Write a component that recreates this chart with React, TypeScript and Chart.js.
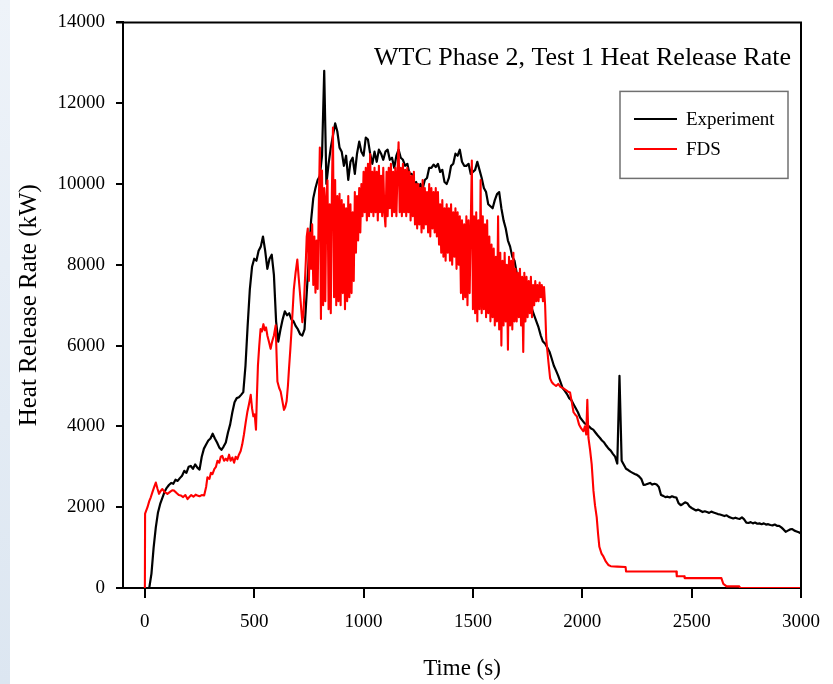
import React, { useEffect, useRef } from "react";
import { Chart, registerables } from "chart.js";

Chart.register(...registerables);

// ---------- texts ----------
const chartTitle = "WTC Phase 2, Test 1 Heat Release Rate";
const seriesNames = ["Experiment", "FDS"];
const xAxisTitle = "Time (s)";
const yAxisTitle = "Heat Release Rate (kW)";

// ---------- tick labels ----------
const xTickValues = [0, 500, 1000, 1500, 2000, 2500, 3000];
const yTickValues = [0, 2000, 4000, 6000, 8000, 10000, 12000, 14000];

// ---------- Experiment (kW), sampled every 10 s from t = 0 s ----------
const expStart = 0;
const expStep = 10;
const expHRR = [
  0, 0, 0, 350, 1000, 1500, 1870, 2080, 2230, 2380, // 0-90
  2480, 2550, 2600, 2580, 2680, 2650, 2720, 2780, 2900, 2850, // 100-190
  3000, 3020, 2950, 3060, 2980, 2930, 3250, 3450, 3550, 3650, // 200-290
  3700, 3820, 3700, 3600, 3480, 3420, 3500, 3600, 3850, 4050, // 300-390
  4350, 4600, 4700, 4720, 4780, 4850, 5500, 6500, 7400, 7950, // 400-490
  8150, 8100, 8350, 8450, 8700, 8350, 7900, 8150, 8250, 7750, // 500-590
  6600, 6100, 6400, 6650, 6850, 6750, 6800, 6650, 6600, 6480, // 600-690
  6400, 6280, 6250, 6400, 7300, 8200, 9100, 9650, 9900, 10100, // 700-790
  10200, 10700, 12800, 10000, 10500, 10900, 11200, 11500, 11300, 10900, // 800-890
  10800, 10450, 10700, 10100, 10550, 10650, 10250, 10750, 11050, 10800, // 900-990
  10700, 11150, 11100, 10750, 10500, 10800, 10550, 10850, 10750, 10600, // 1000-1090
  10800, 10850, 10600, 10650, 10400, 10700, 10850, 10650, 10600, 10450, // 1100-1190
  10500, 10250, 10250, 10000, 10050, 9900, 10000, 9880, 10100, 10150, // 1200-1290
  10400, 10400, 10480, 10420, 10500, 10300, 10350, 10050, 10000, 10150, // 1300-1390
  10450, 10500, 10750, 10700, 10850, 10550, 10450, 10450, 10500, 10250, // 1400-1490
  10300, 10350, 10550, 10350, 10150, 9900, 9800, 9500, 9450, 9400, // 1500-1590
  9600, 9750, 9800, 9400, 9100, 8900, 8600, 8450, 8200, 8100, // 1600-1690
  7800, 7650, 7500, 7400, 7250, 7150, 7050, 6900, 6750, 6600, // 1700-1790
  6450, 6250, 6100, 6050, 5950, 5850, 5680, 5500, 5380, 5250, // 1800-1890
  5100, 4950, 4880, 4800, 4700, 4650, 4550, 4450, 4350, 4220, // 1900-1990
  4150, 4080, 4050, 4000, 3950, 3920, 3850, 3780, 3720, 3650, // 2000-2090
  3600, 3520, 3450, 3400, 3320, 3250, 3080, 5250, 3150, 3050, // 2100-2190
  2950, 2920, 2880, 2850, 2820, 2800, 2760, 2700, 2550, 2560, // 2200-2290
  2580, 2600, 2560, 2580, 2560, 2500, 2300, 2280, 2250, 2260, // 2300-2390
  2240, 2270, 2250, 2240, 2100, 2050, 2080, 2120, 2100, 2020, // 2400-2490
  1980, 1950, 1920, 1940, 1910, 1880, 1900, 1880, 1860, 1890, // 2500-2590
  1870, 1850, 1830, 1820, 1800, 1780, 1800, 1760, 1740, 1720, // 2600-2690
  1740, 1720, 1710, 1750, 1700, 1620, 1610, 1630, 1600, 1620, // 2700-2790
  1590, 1600, 1580, 1600, 1570, 1580, 1560, 1550, 1570, 1540, // 2800-2890
  1540, 1500, 1450, 1390, 1420, 1450, 1460, 1420, 1400, 1380, // 2900-2990
  1350, // 3000
];

// ---------- FDS (kW), early part ----------
const fdsEarlyTime = [
  0, 1, 12, 20, 27, 35, 42, 50, 58, 65, 72, 80, 90, 103, 115, 125, 134, 145, 155, 164,
  175, 185, 195, 202, 212, 222, 232, 240, 250, 260, 271, 280, 286, 295, 302, 309, 318, 325, 332, 340,
  347, 354, 362, 370, 377, 385, 392, 400, 408, 415, 423, 430, 438, 445, 453, 461, 469, 476, 484, 490,
  496, 502, 508, 512, 517, 523, 529, 535, 542, 548, 554, 560, 567, 575, 582, 590, 598, 602, 606, 614,
  621, 628, 636, 642, 648, 654, 659, 665, 670, 676, 681, 689, 697, 703, 709, 715, 720, 725, 730, 736, 740,
];
const fdsEarlyHRR = [
  0, 1840, 2000, 2150, 2245, 2380, 2490, 2610, 2450, 2330, 2400, 2450, 2380, 2330, 2380, 2420, 2410, 2350, 2300, 2290,
  2250, 2300, 2200, 2245, 2300, 2260, 2310, 2290, 2270, 2300, 2290, 2500, 2740, 2700, 2850, 2820, 2950, 3000, 3150, 3100,
  3250, 3270, 3150, 3200, 3150, 3300, 3150, 3230, 3100, 3250, 3190, 3300, 3390, 3550, 3800, 4100, 4370, 4550, 4780, 4450,
  4250, 4300, 3920, 4700, 5510, 6000, 6410, 6350, 6530, 6380, 6450, 6250, 6100, 5920, 6100, 6250, 6500, 5800, 5110, 4950,
  4860, 4650, 4410, 4480, 4620, 5000, 5430, 5900, 6330, 6900, 7390, 7800, 8130, 7700, 7310, 6900, 6580, 6800, 7390, 8100, 8700,
];

// ---------- FDS (kW), noisy middle part, every 5 s from t = 745 s ----------
const fdsMidStart = 745;
const fdsMidStep = 5;
const fdsMidHRR = [
  8900, 7600, 8800, 7900, 9000, 7500, 8700, 7310, 8600, 7400, // 745-790
  9400, 10900, 6660, 10330, 7000, 9900, 7100, 9700, 10090, 6900, // 795-840
  9500, 6800, 9800, 11400, 7200, 10100, 7000, 9700, 7100, 9760, // 845-890
  7000, 9600, 7300, 9500, 6900, 9400, 7100, 9700, 7200, 9500, // 895-940
  7300, 9300, 7600, 9800, 8300, 9700, 8600, 9900, 8800, 10000, // 945-990
  9200, 10300, 9300, 10400, 9100, 10500, 9200, 10740, 9300, 10300, // 995-1040
  9200, 10400, 9300, 10300, 9100, 10450, 9300, 10200, 9200, 10400, // 1045-1090
  9300, 8950, 10300, 9200, 10400, 9400, 10500, 9200, 10300, 9300, // 1095-1140
  10400, 9200, 10300, 11030, 9300, 10400, 9200, 10500, 9300, 10350, // 1145-1190
  9200, 10400, 9300, 10300, 9100, 10200, 9200, 10300, 9000, 10000, // 1195-1240
  8900, 10000, 9000, 9900, 8800, 10100, 8900, 9900, 9000, 9800, // 1245-1290
  8800, 10000, 8700, 9900, 8900, 9800, 8800, 9900, 8700, 9800, // 1295-1340
  8500, 9500, 8300, 9600, 8200, 9400, 8100, 9500, 8300, 9400, // 1345-1390
  8100, 9500, 8000, 9300, 8200, 9400, 7900, 9300, 8000, 9200, // 1395-1440
  7300, 9100, 7150, 9000, 7200, 9200, 7000, 9100, 7300, 9000, // 1445-1490
  10580, 6900, 9200, 6800, 9300, 6600, 9100, 6900, 10100, 6800, // 1495-1540
  9200, 6900, 9000, 6700, 9100, 6800, 8700, 6600, 8500, 6700, // 1545-1590
  8400, 6500, 8200, 6600, 9200, 6400, 8300, 6000, 8100, 6500, // 1595-1640
  8300, 6600, 8000, 5900, 8200, 6500, 8100, 6400, 8300, 6600, // 1645-1690
  7900, 6600, 7800, 6700, 7900, 6500, 7700, 5840, 7800, 6600, // 1695-1740
  7700, 6700, 7600, 6800, 7700, 6700, 7500, 7000, 7600, 7100, // 1745-1790
  7500, 7100, 7560, 7200, 7500, 7100, 7450, 7000, // 1795-1830
];

// ---------- FDS (kW), decay part ----------
const fdsLateTime = [
  1835, 1845, 1853, 1860, 1868, 1880, 1890, 1900, 1914, 1925, 1935, 1944, 1952, 1960, 1968, 1975, 1985, 1995,
  2005, 2012, 2018, 2023, 2028, 2036, 2043, 2051, 2058, 2066, 2072, 2078, 2088, 2097, 2108, 2119, 2130, 2160,
  2198, 2200, 2430, 2432, 2466, 2468, 2636, 2645, 2660, 2718, 2722, 3000,
];
const fdsLateHRR = [
  6170, 5600, 5190, 5100, 5050, 5000, 5050, 4980, 4940, 4900, 4860, 4840, 4600, 4350, 4290, 4250, 4050, 3950,
  3880, 4000, 3800, 4660, 3720, 3400, 3060, 2410, 2050, 1750, 1350, 1020, 850, 775, 650, 570, 540, 530,
  520, 410, 410, 290, 290, 245, 245, 100, 40, 40, 0, 0,
];

const FONT = "'Liberation Serif', 'Times New Roman', serif";

const overlayPlugin = {
  id: "frameTitleLegend",
  afterDraw(chart: any) {
    const { ctx, chartArea } = chart;
    const { left, top, right, bottom } = chartArea;
    ctx.save();
    // top and right frame lines
    ctx.strokeStyle = "#000";
    ctx.lineWidth = 2;
    ctx.beginPath();
    ctx.moveTo(left - 7, top);
    ctx.lineTo(right, top);
    ctx.lineTo(right, bottom);
    ctx.stroke();

    // title inside the plot
    ctx.fillStyle = "#000";
    ctx.font = `26px ${FONT}`;
    ctx.textAlign = "right";
    ctx.textBaseline = "alphabetic";
    ctx.fillText(chartTitle, right - 10, top + 43);

    // legend box
    const bx = right - 181;
    const by = top + 69;
    const bw = 168;
    const bh = 87;
    ctx.strokeStyle = "#707070";
    ctx.lineWidth = 1.5;
    ctx.strokeRect(bx, by, bw, bh);
    const colors = ["#000000", "#ff0000"];
    ctx.font = `19px ${FONT}`;
    ctx.textAlign = "left";
    ctx.textBaseline = "middle";
    seriesNames.forEach((name, i) => {
      const ly = by + 27.5 + i * 30;
      ctx.strokeStyle = colors[i];
      ctx.lineWidth = 2;
      ctx.beginPath();
      ctx.moveTo(bx + 14, ly);
      ctx.lineTo(bx + 57, ly);
      ctx.stroke();
      ctx.fillStyle = "#000";
      ctx.fillText(name, bx + 66, ly + 1);
    });
    ctx.restore();
  },
};

export default function App() {
  const canvasRef = useRef<HTMLCanvasElement | null>(null);

  useEffect(() => {
    const canvas = canvasRef.current;
    if (!canvas) return;
    Chart.defaults.font.family = FONT;

    const expData = expHRR.map((v, i) => ({ x: expStart + i * expStep, y: v }));
    const fdsData = [
      ...fdsEarlyTime.map((t, i) => ({ x: t, y: fdsEarlyHRR[i] })),
      ...fdsMidHRR.map((v, i) => ({ x: fdsMidStart + i * fdsMidStep, y: v })),
      ...fdsLateTime.map((t, i) => ({ x: t, y: fdsLateHRR[i] })),
    ];

    const chart = new Chart(canvas, {
      type: "line",
      data: {
        datasets: [
          {
            label: seriesNames[0],
            data: expData,
            borderColor: "#000000",
            borderWidth: 2.2,
            pointRadius: 0,
            tension: 0,
            borderJoinStyle: "round",
            order: 2,
          },
          {
            label: seriesNames[1],
            data: fdsData,
            borderColor: "#ff0000",
            borderWidth: 2.1,
            pointRadius: 0,
            tension: 0,
            borderJoinStyle: "round",
            order: 1,
          },
        ],
      },
      options: {
        responsive: false,
        animation: false,
        layout: { padding: { left: 0, top: 17, right: 31, bottom: 0 } },
        plugins: {
          legend: { display: false },
          tooltip: { enabled: false },
          title: { display: false },
        },
        scales: {
          x: {
            type: "linear",
            min: -100,
            max: 3000,
            afterBuildTicks: (s: any) => {
              s.ticks = xTickValues.map((v) => ({ value: v }));
            },
            afterFit: (s: any) => {
              s.height = 96;
            },
            grid: {
              drawOnChartArea: false,
              drawTicks: true,
              tickLength: 10,
              color: "#000",
              lineWidth: 2,
            },
            border: { display: true, color: "#000", width: 2 },
            ticks: {
              color: "#000",
              font: { size: 19, family: FONT },
              padding: 13,
              maxRotation: 0,
              autoSkip: false,
              callback: (v: any) => String(v),
            },
            title: {
              display: true,
              text: xAxisTitle,
              color: "#000",
              font: { size: 23, family: FONT },
              padding: { top: 0, bottom: 1 },
            },
          },
          y: {
            type: "linear",
            min: 0,
            max: 14000,
            afterBuildTicks: (s: any) => {
              s.ticks = yTickValues.map((v) => ({ value: v }));
            },
            afterFit: (s: any) => {
              s.width = 123;
            },
            grid: {
              drawOnChartArea: false,
              drawTicks: true,
              tickLength: 7,
              color: "#000",
              lineWidth: 2,
            },
            border: { display: true, color: "#000", width: 2 },
            ticks: {
              color: "#000",
              font: { size: 19, family: FONT },
              padding: 11,
              autoSkip: false,
              callback: (v: any) => String(v),
            },
            title: {
              display: true,
              text: yAxisTitle,
              color: "#000",
              font: { size: 25, family: FONT },
              padding: { top: 14, bottom: 0 },
            },
          },
        },
      },
      plugins: [overlayPlugin],
    });

    return () => chart.destroy();
  }, []);

  return (
    <div
      style={{
        position: "fixed",
        left: 0,
        top: 0,
        width: 833,
        height: 684,
        background: "#ffffff",
        overflow: "hidden",
      }}
    >
      <div
        style={{
          position: "absolute",
          left: 0,
          top: 0,
          width: 10,
          height: 684,
          background: "linear-gradient(#eef3f9, #dce6f1)",
        }}
      />
      <canvas
        ref={canvasRef}
        width={833}
        height={684}
        style={{ position: "absolute", left: 0, top: 0, width: 833, height: 684 }}
      />
    </div>
  );
}
